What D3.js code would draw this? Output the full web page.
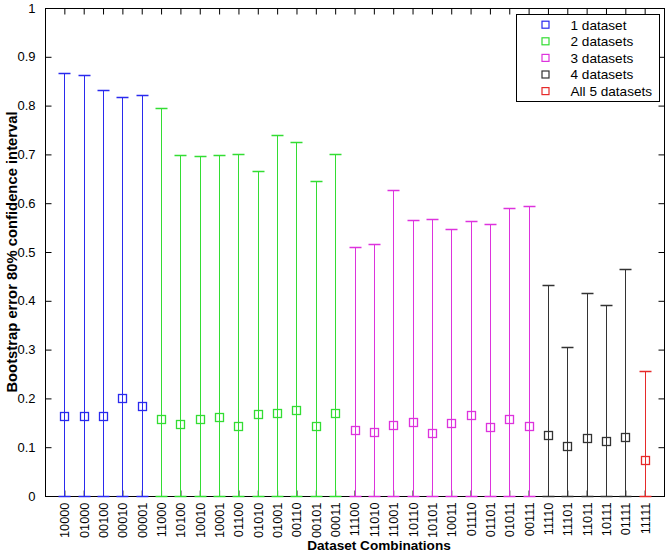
<!DOCTYPE html>
<html>
<head>
<meta charset="utf-8">
<script src="https://cdn.jsdelivr.net/npm/d3@7"></script>
<style>
body { margin: 0; background: #fff; }
svg { display: block; font-family: "Liberation Sans", Arial, sans-serif; }
</style>
</head>
<body>
<svg id="chart" width="669" height="554"></svg>
<script>
const combos = ["10000","01000","00100","00010","00001",
  "11000","10100","10010","10001","01100","01010","01001","00110","00101","00011",
  "11100","11010","11001","10110","10101","10011","01110","01101","01011","00111",
  "11110","11101","11011","10111","01111","11111"];
const medianValues = [0.163,0.164,0.163,0.201,0.184,
  0.158,0.147,0.157,0.161,0.143,0.169,0.171,0.176,0.143,0.171,
  0.136,0.132,0.145,0.151,0.129,0.149,0.167,0.141,0.157,0.143,
  0.124,0.102,0.119,0.113,0.120,0.074];
const upperValues = [0.867,0.862,0.831,0.818,0.822,
  0.796,0.698,0.697,0.699,0.701,0.665,0.739,0.726,0.645,0.700,
  0.510,0.517,0.628,0.566,0.567,0.548,0.563,0.557,0.590,0.594,
  0.432,0.306,0.417,0.391,0.465,0.256];
const lowerValues = new Array(31).fill(0);
const groupNames = ["1 dataset","2 datasets","3 datasets","4 datasets","All 5 datasets"];
const groupColors = ["#2a2aee","#33dd33","#dd33dd","#333333","#e62a2a"];
const yTicks = [0,0.1,0.2,0.3,0.4,0.5,0.6,0.7,0.8,0.9,1];

const svg = d3.select("#chart");
const x = d3.scaleLinear().domain([0, 32]).range([45, 664]);
const y = d3.scaleLinear().domain([0, 1]).range([496, 8]);
const groupOf = c => c.split("").filter(ch => ch === "1").length - 1;
const data = combos.map((c, i) => ({c, i, pos: i + 1, m: medianValues[i], hi: upperValues[i], lo: lowerValues[i], g: groupOf(c)}));
const px = v => Math.round(x(v)) + 0.5;
const py = v => Math.round(y(v)) + 0.5;

// frame
svg.append("rect").attr("x", 45.5).attr("y", 8.5).attr("width", 619).attr("height", 488)
  .attr("fill", "none").attr("stroke", "#000").attr("stroke-width", 1);

// y ticks (inward, left and right)
const yAxisL = d3.axisLeft(y).tickValues(yTicks).tickSize(-6).tickPadding(10)
  .tickFormat(d => d === 0 ? "0" : d === 1 ? "1" : d3.format(".1f")(d));
const gL = svg.append("g").attr("transform", "translate(45.5,0)").call(yAxisL);
gL.select(".domain").remove();
gL.selectAll("text").attr("font-size", 13).attr("fill", "#000").attr("font-family", "Liberation Sans, Arial, sans-serif");
const yAxisR = d3.axisRight(y).tickValues(yTicks).tickSize(-6).tickFormat("");
const gR = svg.append("g").attr("transform", "translate(664.5,0)").call(yAxisR);
gR.select(".domain").remove();

// x ticks top (inward)
const xPositions = data.map(d => d.pos);
const xAxisT = d3.axisTop(x).tickValues(xPositions).tickSize(-6).tickFormat("");
const gT = svg.append("g").attr("transform", "translate(0,8.5)").call(xAxisT);
gT.select(".domain").remove();
// x ticks bottom with rotated labels
const xAxisB = d3.axisBottom(x).tickValues(xPositions).tickSize(-6).tickFormat(d => combos[d - 1]);
const gB = svg.append("g").attr("transform", "translate(0,496.5)").call(xAxisB);
gB.select(".domain").remove();
gB.selectAll("text").attr("font-size", 12.8).attr("fill", "#000")
  .attr("font-family", "Liberation Sans, Arial, sans-serif")
  .attr("transform", "rotate(-90)").attr("text-anchor", "end")
  .attr("x", -6).attr("y", 0).attr("dy", "0.35em");
svg.selectAll(".tick line").attr("stroke", "#000");

// error bars
const eb = svg.append("g").selectAll("g").data(data).join("g")
  .attr("stroke", d => groupColors[d.g]).attr("fill", "none").attr("stroke-width", 1);
eb.append("line").attr("x1", d => px(d.pos)).attr("x2", d => px(d.pos))
  .attr("y1", d => py(d.lo)).attr("y2", d => py(d.hi));
eb.append("line").attr("x1", d => px(d.pos) - 6).attr("x2", d => px(d.pos) + 6)
  .attr("y1", d => py(d.hi)).attr("y2", d => py(d.hi)).attr("stroke-width", 1.5);
eb.append("line").attr("x1", d => px(d.pos) - 6).attr("x2", d => px(d.pos) + 6)
  .attr("y1", d => py(d.lo)).attr("y2", d => py(d.lo)).attr("stroke-width", 1.5);
eb.append("rect").attr("x", d => px(d.pos) - 4).attr("y", d => py(d.m) - 4)
  .attr("width", 8).attr("height", 8).attr("fill", "none").attr("stroke-width", 1.3);

// legend
const lg = svg.append("g");
lg.append("rect").attr("x", 516.5).attr("y", 14.5).attr("width", 143).attr("height", 87)
  .attr("fill", "#fff").attr("stroke", "#000");
groupNames.forEach((name, k) => {
  const cy = 24.7 + k * 16.6;
  lg.append("rect").attr("x", 542).attr("y", cy - 3.5).attr("width", 7).attr("height", 7)
    .attr("fill", "none").attr("stroke", groupColors[k]).attr("stroke-width", 1.2);
  lg.append("text").attr("x", 570.5).attr("y", cy).attr("dy", "0.36em")
    .attr("font-size", 13.6).attr("fill", "#000").text(name);
});

// axis labels
svg.append("text").attr("x", 379).attr("y", 550).attr("text-anchor", "middle")
  .attr("font-size", 13.6).attr("font-weight", "bold").text("Dataset Combinations");
svg.append("text").attr("transform", "translate(17,252) rotate(-90)").attr("text-anchor", "middle")
  .attr("font-size", 14.8).attr("font-weight", "bold").text("Bootstrap error 80% confidence interval");
</script>
</body>
</html>
